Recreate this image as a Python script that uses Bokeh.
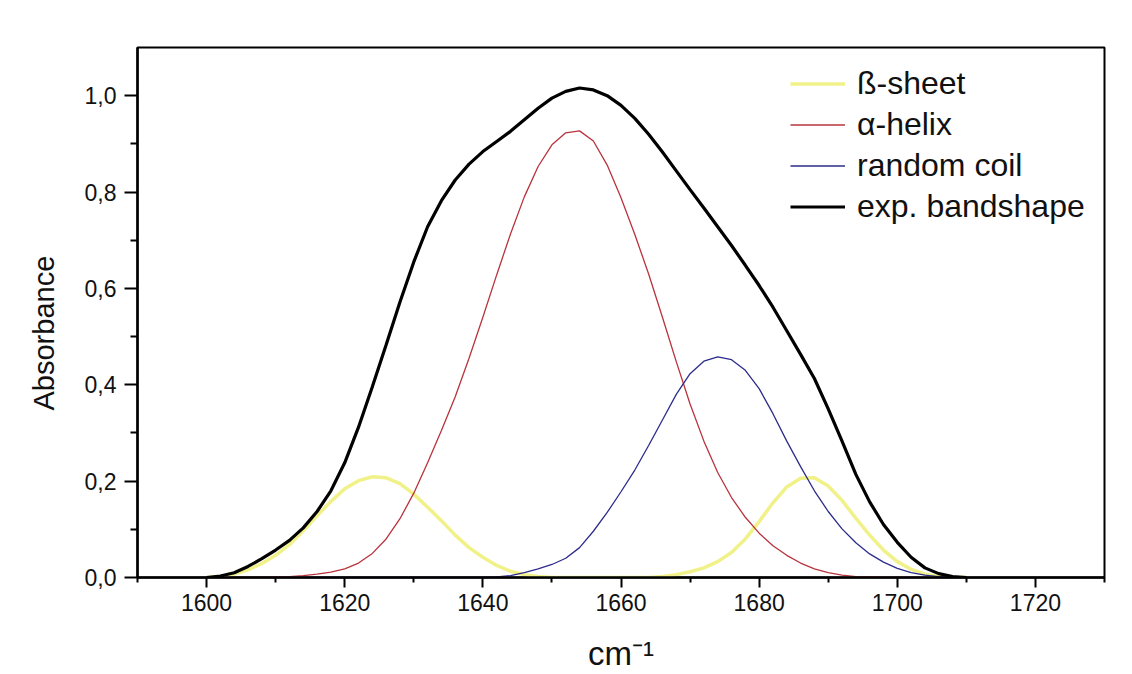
from bokeh.plotting import figure
from bokeh.models import Range1d, FixedTicker, CustomJSTickFormatter, Legend, LegendItem, Title
from bokeh.embed import file_html
from bokeh.resources import INLINE

# ---- data ----
x_tick_major = [1600, 1620, 1640, 1660, 1680, 1700, 1720]
x_tick_minor = [1590, 1610, 1630, 1650, 1670, 1690, 1710, 1730]
y_tick_major = [0.0, 0.2, 0.4, 0.6, 0.8, 1.0]
y_tick_minor = [0.1, 0.3, 0.5, 0.7, 0.9]

series_names = ["ß-sheet", "α-helix", "random coil", "exp. bandshape"]

beta_x = [1600, 1602, 1604, 1606, 1608, 1610, 1612, 1614, 1616, 1618, 1620, 1622, 1624,
          1626, 1628, 1630, 1632, 1634, 1636, 1638, 1640, 1642, 1644, 1646, 1648, 1650,
          1664, 1666, 1668, 1670, 1672, 1674, 1676, 1678, 1680, 1682, 1684, 1686, 1688,
          1690, 1692, 1694, 1696, 1698, 1700, 1702, 1704, 1706, 1708, 1710]
beta_y = [0.000, 0.002, 0.007, 0.016, 0.029, 0.046, 0.068, 0.097, 0.128, 0.158, 0.184, 0.201, 0.209,
          0.207, 0.195, 0.173, 0.146, 0.118, 0.088, 0.062, 0.042, 0.025, 0.013, 0.006, 0.002, 0.000,
          0.000, 0.002, 0.006, 0.012, 0.020, 0.033, 0.052, 0.080, 0.116, 0.155, 0.188, 0.206, 0.207,
          0.190, 0.160, 0.123, 0.088, 0.057, 0.033, 0.017, 0.007, 0.002, 0.000, 0.000]

alpha_x = [1600, 1606, 1610, 1612, 1614, 1616, 1618, 1620, 1622, 1624, 1626, 1628, 1630,
           1632, 1634, 1636, 1638, 1640, 1642, 1644, 1646, 1648, 1650, 1652, 1654, 1656,
           1658, 1660, 1662, 1664, 1666, 1668, 1670, 1672, 1674, 1676, 1678, 1680, 1682,
           1684, 1686, 1688, 1690, 1692, 1694, 1696, 1698, 1710]
alpha_y = [0.000, 0.000, 0.001, 0.002, 0.004, 0.007, 0.011, 0.018, 0.030, 0.050, 0.080, 0.122, 0.175,
           0.238, 0.305, 0.375, 0.455, 0.540, 0.628, 0.713, 0.790, 0.853, 0.898, 0.923, 0.927, 0.906,
           0.856, 0.788, 0.712, 0.630, 0.540, 0.448, 0.360, 0.283, 0.218, 0.166, 0.125, 0.092, 0.066,
           0.046, 0.030, 0.018, 0.010, 0.005, 0.002, 0.001, 0.000, 0.000]

coil_x = [1600, 1640, 1642, 1644, 1646, 1648, 1650, 1652, 1654, 1656, 1658, 1660, 1662,
          1664, 1666, 1668, 1670, 1672, 1674, 1676, 1678, 1680, 1682, 1684, 1686, 1688,
          1690, 1692, 1694, 1696, 1698, 1700, 1702, 1704, 1706, 1708, 1710]
coil_y = [0.000, 0.000, 0.001, 0.004, 0.010, 0.018, 0.027, 0.040, 0.062, 0.096, 0.135, 0.178, 0.223,
          0.274, 0.327, 0.380, 0.423, 0.449, 0.458, 0.452, 0.430, 0.392, 0.340, 0.283, 0.230, 0.180,
          0.137, 0.101, 0.072, 0.049, 0.032, 0.019, 0.010, 0.005, 0.002, 0.001, 0.000]

exp_x = [1600, 1602, 1604, 1606, 1608, 1610, 1612, 1614, 1616, 1618, 1620, 1622, 1624,
         1626, 1628, 1630, 1632, 1634, 1636, 1638, 1640, 1642, 1644, 1646, 1648, 1650,
         1652, 1654, 1656, 1658, 1660, 1662, 1664, 1666, 1668, 1670, 1672, 1674, 1676,
         1678, 1680, 1682, 1684, 1686, 1688, 1690, 1692, 1694, 1696, 1698, 1700, 1702,
         1704, 1706, 1708, 1710]
exp_y = [0.000, 0.003, 0.010, 0.023, 0.039, 0.057, 0.077, 0.103, 0.137, 0.180, 0.238, 0.312, 0.396,
         0.483, 0.572, 0.655, 0.728, 0.782, 0.825, 0.858, 0.884, 0.905, 0.926, 0.950, 0.974, 0.995,
         1.009, 1.016, 1.012, 1.000, 0.980, 0.953, 0.920, 0.883, 0.844, 0.805, 0.767, 0.728, 0.689,
         0.648, 0.606, 0.561, 0.512, 0.463, 0.413, 0.350, 0.283, 0.214, 0.157, 0.110, 0.073, 0.042,
         0.020, 0.008, 0.002, 0.000]

# ---- figure ----
FONT = "Liberation Sans"
p = figure(width=1128, height=674, output_backend="svg", toolbar_location=None,
           x_range=Range1d(1590, 1730), y_range=Range1d(0, 1.1),
           min_border_left=137, min_border_right=24, min_border_top=47, min_border_bottom=97)
p.grid.visible = False
p.outline_line_color = "black"
p.outline_line_width = 2
p.background_fill_color = "white"

p.xaxis.ticker = FixedTicker(ticks=x_tick_major, minor_ticks=x_tick_minor)
p.yaxis.ticker = FixedTicker(ticks=y_tick_major, minor_ticks=y_tick_minor)
p.yaxis.formatter = CustomJSTickFormatter(code="return tick.toFixed(1).replace('.', ',');")

for ax in (p.xaxis, p.yaxis):
    ax.axis_line_width = 2.5
    ax.axis_line_color = "black"
    ax.major_tick_line_width = 2
    ax.minor_tick_line_width = 2
    ax.major_tick_line_color = "black"
    ax.minor_tick_line_color = "black"
    ax.major_tick_in = 0
    ax.minor_tick_in = 0
    ax.major_label_text_font = FONT
    ax.major_label_text_font_size = "23px"
    ax.major_label_text_color = "#111111"

p.xaxis.major_tick_out = 10
p.xaxis.minor_tick_out = 5
p.xaxis.major_label_standoff = 6
p.xaxis.axis_label = "cm⁻¹"
p.xaxis.axis_label_text_font = FONT
p.xaxis.axis_label_text_font_style = "normal"
p.xaxis.axis_label_text_font_size = "33px"
p.xaxis.axis_label_text_color = "#111111"
p.xaxis.axis_label_standoff = 21

p.yaxis.major_tick_out = 13
p.yaxis.minor_tick_out = 7
p.yaxis.major_label_standoff = 8

ytitle = Title(text="Absorbance", align="left", offset=167, standoff=43,
               text_font=FONT, text_font_size="29px", text_font_style="normal",
               text_color="#111111")
p.add_layout(ytitle, "left")

r_beta = p.line(beta_x, beta_y, line_color="#f0f07c", line_width=3.5, line_alpha=0.9)
r_alpha = p.line(alpha_x, alpha_y, line_color="#b8333d", line_width=1.3)
r_coil = p.line(coil_x, coil_y, line_color="#2c2c8c", line_width=1.3)
r_exp = p.line(exp_x, exp_y, line_color="black", line_width=3.2)

legend = Legend(items=[LegendItem(label=series_names[0], renderers=[r_beta]),
                       LegendItem(label=series_names[1], renderers=[r_alpha]),
                       LegendItem(label=series_names[2], renderers=[r_coil]),
                       LegendItem(label=series_names[3], renderers=[r_exp])],
                location=(653, 350))
legend.border_line_alpha = 0
legend.background_fill_alpha = 0
legend.padding = 0
legend.margin = 0
legend.spacing = 0
legend.glyph_width = 55
legend.glyph_height = 41
legend.label_height = 41
legend.label_standoff = 12
legend.label_text_font = FONT
legend.label_text_font_size = "32px"
legend.label_text_color = "#111111"
p.add_layout(legend)

open("out.html", "w").write(file_html(p, INLINE))
